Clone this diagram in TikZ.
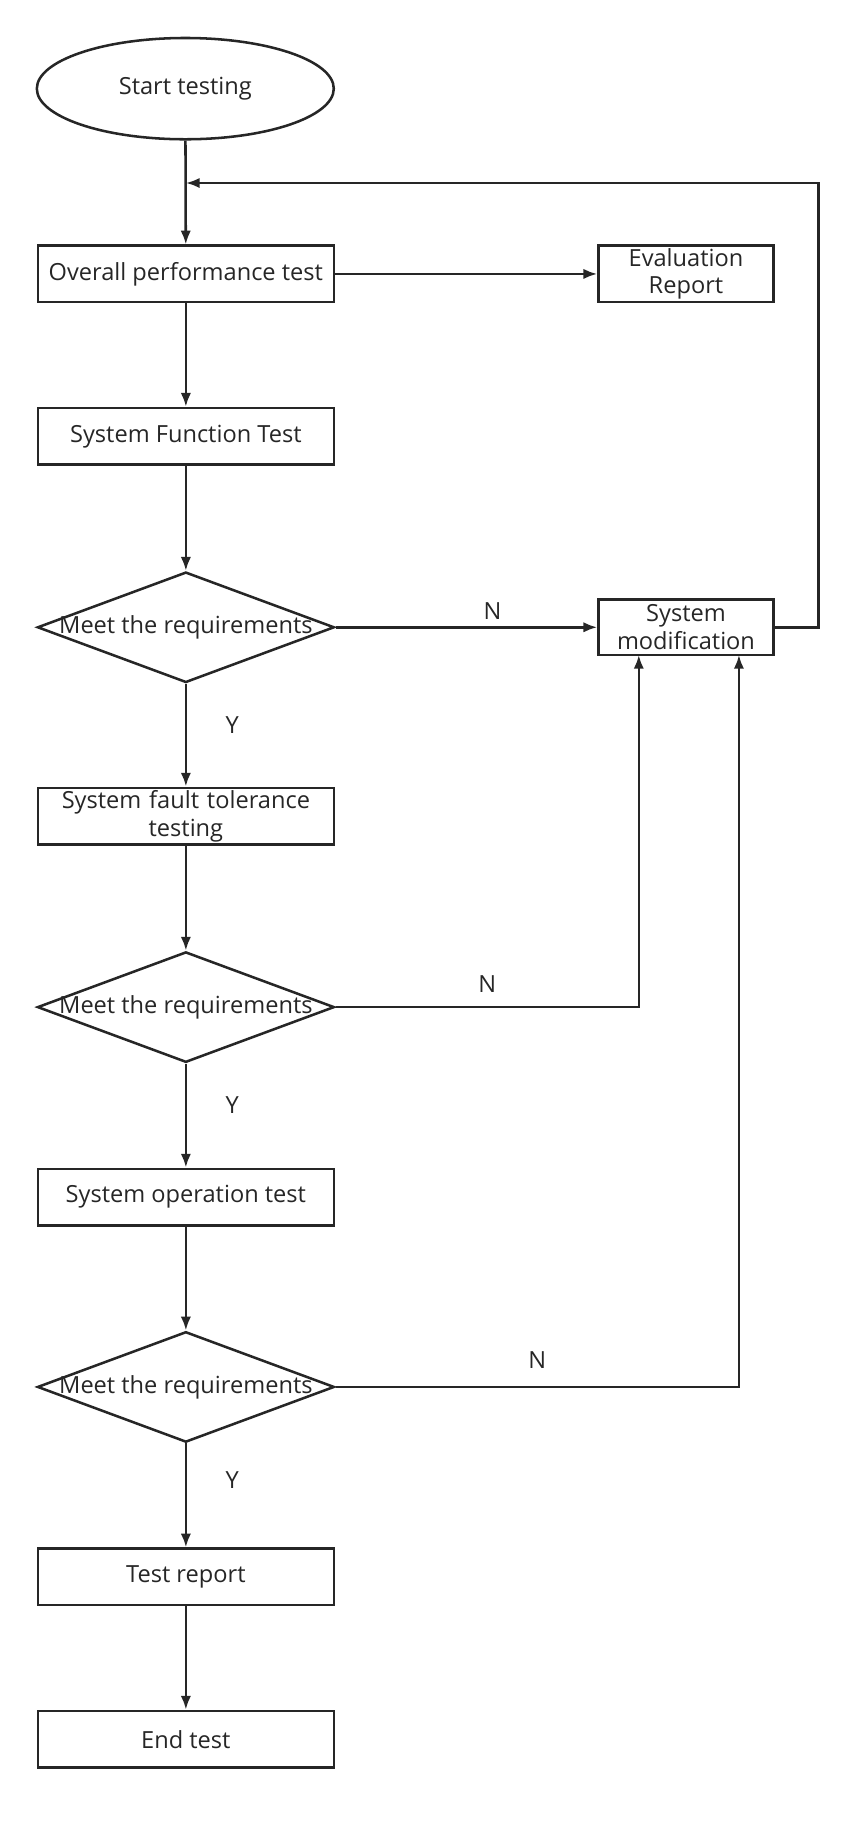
\documentclass[tikz,border=0pt]{standalone}
\usepackage{fontspec}
\setmainfont{Open Sans}
\usetikzlibrary{shapes.geometric,arrows.meta}
\begin{document}
\begin{tikzpicture}[x=1pt,y=-1pt,
  every node/.style={font=\fontsize{20.5}{24}\selectfont, text=black!85},
  box/.style={draw=black!85,line width=2.2pt,minimum height=49pt,align=center,inner sep=0pt},
  dia/.style={draw=black!85,line width=2.2pt,diamond,minimum width=258pt,minimum height=96pt,inner sep=0pt,aspect=2.7},
  arr/.style={draw=black!85,line width=2.2pt,-{Latex[length=12pt,width=9pt]}}]
\useasboundingbox (0,0) rectangle (750,1583);
\node[draw=black!85,line width=2.2pt,ellipse,minimum width=258pt,minimum height=88pt] (start) at (161,77) {Start testing};
\node[box,minimum width=257pt] (over) at (161.5,238) {Overall performance test};
\node[box,minimum width=152pt,text width=150pt] (eval) at (596,238) {Evaluation\\Report};
\node[box,minimum width=257pt] (func) at (161.5,379) {System Function Test};
\node[dia] (d1) at (161.5,545) {};
\node at (161.5,545) {Meet the requirements};
\node[box,minimum width=152pt,text width=150pt,minimum height=48pt] (mod) at (596,545) {System\\modification};
\node[box,minimum width=257pt,text width=255pt] (fault) at (161.5,709) {System fault tolerance\\testing};
\node[dia] (d2) at (161.5,875) {};
\node at (161.5,875) {Meet the requirements};
\node[box,minimum width=257pt] (oper) at (161.5,1040) {System operation test};
\node[dia] (d3) at (161.5,1205) {};
\node at (161.5,1205) {Meet the requirements};
\node[box,minimum width=257pt] (rep) at (161.5,1370) {Test report};
\node[box,minimum width=257pt] (end) at (161.5,1511) {End test};
\coordinate (loop) at (161.5,159);
\draw[arr] (start) -- (over);
\draw[arr] (over) -- (eval);
\draw[arr] (over) -- (func);
\draw[arr] (func) -- (d1);
\draw[arr] (d1) -- node[above,yshift=2pt,pos=0.6]{N} (mod);
\draw[arr] (mod.east) -- (711,545) -- (711,159) -- (loop);
\draw[arr] (d1) -- node[right,xshift=30pt,pos=0.4]{Y} (fault);
\draw[arr] (fault) -- (d2);
\draw[arr] (d2.east) -- node[above,yshift=8pt]{N} (555,875) -- (555,569);
\draw[arr] (d2) -- node[right,xshift=30pt,pos=0.4]{Y} (oper);
\draw[arr] (oper) -- (d3);
\draw[arr] (d3.east) -- node[above,yshift=12pt]{N} (642,1205) -- (642,569);
\draw[arr] (d3) -- node[right,xshift=30pt,pos=0.35]{Y} (rep);
\draw[arr] (rep) -- (end);
\end{tikzpicture}
\end{document}
